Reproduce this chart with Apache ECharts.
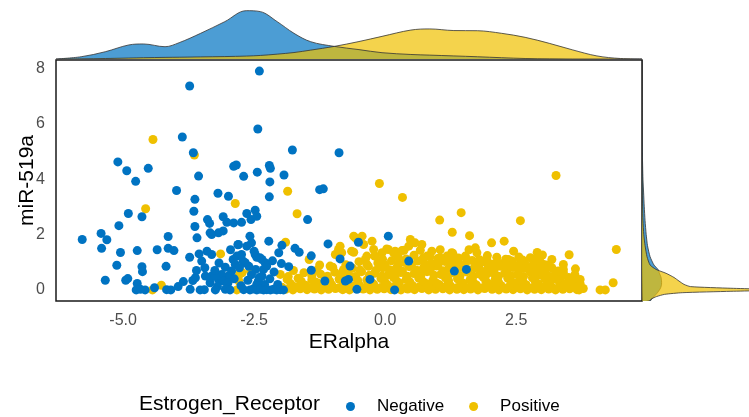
<!DOCTYPE html>
<html>
<head>
<meta charset="utf-8">
<script src="https://cdn.jsdelivr.net/npm/echarts@6/dist/echarts.min.js"></script>
<style>
  html, body { margin: 0; padding: 0; background: #fff; }
  #chart { width: 749px; height: 417px; }
</style>
</head>
<body>
<div id="chart"></div>
<script>
// ERalpha (x) vs miR-519a (y)
var negPoints = [
  [-2.40,7.90],[-3.73,7.36],[-2.43,5.81],[-3.87,5.52],[-1.77,5.05],[-0.88,4.95],[-3.66,4.95],
  [-5.10,4.62],[-4.93,4.30],[-4.52,4.39],[-4.76,3.92],[-2.89,4.46],[-2.84,4.51],[-2.44,4.25],
  [-2.21,4.49],[-2.19,4.39],[-2.70,4.10],[-3.56,4.11],[-1.93,4.15],[-2.20,3.90],[-3.98,3.59],
  [-1.25,3.62],[-1.18,3.65],[-3.19,3.49],[-2.99,3.38],[-2.21,3.36],[-3.63,3.27],[-3.65,2.84],
  [-4.90,2.76],[-4.64,2.64],[-1.48,2.54],[-3.39,2.54],[-3.35,2.40],[-3.09,2.64],[-3.02,2.44],
  [-2.89,2.42],[-2.74,2.44],[-2.64,2.76],[-2.56,2.54],[-2.48,2.88],[-2.45,2.66],[-5.08,2.32],
  [-3.63,2.29],[-3.34,2.06],[-3.18,2.06],[-3.09,2.13],[-3.31,2.00],[-5.78,1.82],[-5.42,2.04],
  [-5.31,1.81],[-5.41,1.50],[-5.05,1.35],[-4.73,1.42],[-4.35,1.45],[-4.14,1.93],[-4.14,1.50],
  [-4.03,1.42],[-3.59,1.88],[-2.58,1.94],[-2.55,1.70],[-2.64,1.58],[-2.81,1.63],[-2.22,1.76],
  [-1.97,1.61],[-1.72,1.50],[-1.64,1.36],[-1.09,1.66],[-1.41,1.23],[-3.40,1.40],[-3.31,1.28],
  [-3.73,1.18],[-3.55,1.30],[-5.12,0.89],[-4.64,0.84],[-4.63,0.66],[-4.18,0.85],[-3.50,1.04],
  [-3.44,0.80],[-3.17,0.97],[-2.90,1.10],[-2.83,1.22],[-2.71,1.04],[-2.45,1.18],[-2.35,1.10],
  [-2.29,0.98],[-2.47,0.74],[-2.32,0.74],[-2.03,1.34],[-1.84,0.84],[-2.80,1.64],[-2.74,1.28],
  [-2.67,0.98],[-2.48,1.28],[-2.39,1.16],[-2.26,0.86],[-2.35,0.50],[-2.86,0.92],[-2.93,0.68],
  [-2.99,0.50],[-3.31,0.50],[-3.18,0.38],[-3.12,0.56],[-3.34,0.26],[-3.43,0.50],[-4.73,0.23],
  [-5.34,0.35],[-4.95,0.35],[-4.91,0.41],[-3.67,0.34],[-3.62,0.44],[-3.34,0.44],[-3.25,0.50],
  [-3.09,0.32],[-2.96,0.52],[-2.42,0.32],[-2.30,0.20],[-2.45,0.20],[-1.15,0.32],[-0.70,0.38],
  [-1.41,0.71],[-0.86,1.12],[-0.67,0.86],[-0.51,1.72],[0.06,1.94],[-0.76,0.32],[-0.54,0.02],
  [1.32,0.68],[1.55,0.74],[0.18,0.00],[0.45,1.04],[-0.29,0.38],
  [-3.20,0.12],[-3.00,0.25],[-2.88,0.40],[-2.75,0.15],[-2.62,0.35],[-2.55,0.55],[-2.40,0.45],
  [-2.20,0.40],[-2.12,0.65],[-2.05,0.20],[-2.60,0.85],[-2.78,0.80],[-3.05,0.82],[-3.25,0.70],
  [-2.15,1.05],[-1.98,0.95],[-2.50,1.40],[-2.95,1.45],[-3.60,0.70],[-3.85,0.30],[-4.40,0.08],
  [-3.95,0.12],
  [-4.75,0.00],[-4.67,0.02],[-4.58,0.00],[-4.17,0.01],[-4.09,0.00],[-3.72,0.02],[-3.53,0.00],
  [-3.45,0.01],[-3.24,0.00],[-3.05,0.02],[-2.96,0.00],[-2.70,0.01],[-2.58,0.00],[-2.52,0.03],
  [-2.45,0.00],[-2.38,0.02],[-2.32,0.00],[-2.26,0.01],[-2.19,0.00],[-2.13,0.02],[-2.07,0.00],
  [-2.00,0.01],[-1.94,0.00]
];

var posPoints = [
  [-4.43,5.43],[-3.64,4.87],[-1.86,3.56],[-2.86,3.12],[-1.68,2.75],[-4.57,2.93],[-1.90,1.72],
  [-3.14,1.30],[-2.70,1.00],[-2.00,0.56],[-1.87,0.38],[-2.73,0.62],[-2.57,0.68],[-4.27,0.17],
  [-4.44,0.00],[-2.79,0.32],[-2.83,0.00],[-2.78,0.56],
  [-0.11,3.84],[0.33,3.34],[3.26,4.13],[1.04,2.52],[1.45,2.79],[1.28,2.08],[1.61,1.96],
  [2.58,2.50],[2.03,1.70],[2.27,1.76],[4.41,1.46],[3.51,1.27],[3.18,1.10],[2.77,1.16],
  [2.35,1.10],[2.13,1.18],[1.72,1.52],[1.75,1.34],[1.53,1.22],[1.29,1.32],[1.18,1.22],
  [1.02,1.10],[0.48,1.82],[0.57,1.70],[0.70,1.64],[0.36,1.43],[0.67,1.43],[0.06,1.46],
  [0.19,1.40],[-0.57,1.88],[-0.60,1.36],[-0.38,1.10],[-0.25,1.76],[-0.41,1.64],[-0.60,1.94],
  [-0.89,1.46],[-0.83,1.34],[-0.64,1.40],[-0.79,0.74],[-0.44,1.94],[-0.19,1.22],[-0.06,1.34],
  [0.22,1.34],[0.03,1.48],[0.16,1.34],[0.32,1.42],[0.73,1.16],[1.05,1.16],[1.27,1.34],
  [0.89,1.40],[0.80,1.22],[-0.86,1.58],[-0.95,1.28],[-1.05,0.86],[-0.22,1.46],[-0.35,1.22],
  [3.63,0.76],[3.40,0.74],[3.72,0.38],[3.40,0.62],[3.02,0.50],[4.35,0.26],[4.10,0.00],
  [4.20,0.00],[2.74,0.80],[2.89,0.62],[3.18,0.40],[3.34,0.32],[3.70,0.00],[3.78,0.05],
  [3.66,0.26],[3.72,0.22],[3.62,0.55],[3.40,0.92],[3.02,0.92],[1.94,1.10],
  [-1.97,0.10],[-1.85,0.48],[-1.75,0.70],[-1.25,0.90],[-1.45,1.10],
  [0.45,1.58],[1.05,1.45],[1.60,1.45],[2.45,1.40],[2.90,1.35],
  [-1.90,0.02],[-1.76,0.00],[-1.62,0.04],[-1.49,0.01],[-1.35,0.03],[-1.22,0.00],[-1.08,0.02],
  [-0.95,0.05],[-0.81,0.01],[-0.68,0.00],[-0.42,0.03],[-0.29,0.00],[-0.15,0.02],[-0.02,0.04],
  [0.11,0.01],[0.30,0.00],[0.43,0.03],[0.56,0.01],[0.70,0.05],[0.83,0.00],[0.96,0.02],
  [1.10,0.04],[1.23,0.00],[1.37,0.02],[1.50,0.01],[1.63,0.03],[1.77,0.00],[1.90,0.05],
  [2.04,0.02],[2.17,0.00],[2.31,0.03],[2.44,0.01],[2.58,0.04],[2.71,0.00],[2.85,0.02],
  [2.98,0.01],[3.12,0.03],[3.25,0.00],[3.39,0.02],[3.52,0.04],[3.66,0.01],
  [-1.70,0.11],[-1.42,0.09],[-1.15,0.12],[-0.88,0.08],[-0.60,0.13],[-0.35,0.10],[-0.08,0.09],
  [0.18,0.12],[0.40,0.08],[0.65,0.11],[0.90,0.10],[1.16,0.13],[1.38,0.09],[1.62,0.11],
  [1.86,0.08],[2.10,0.12],[2.35,0.10],[2.58,0.13],[2.82,0.09],[3.05,0.11],[3.30,0.08],
  [3.48,0.12],[3.72,0.10],
  [-1.80,0.22],[-1.52,0.17],[-1.28,0.24],[-1.02,0.19],[-0.74,0.26],[-0.48,0.15],[-0.22,0.21],
  [0.05,0.18],[0.27,0.25],[0.52,0.16],[0.78,0.23],[1.03,0.20],[1.25,0.14],[1.49,0.24],
  [1.74,0.18],[1.98,0.22],[2.21,0.16],[2.46,0.25],[2.69,0.19],[2.93,0.21],[3.16,0.15],
  [3.40,0.23],[3.58,0.18],
  [-1.60,0.31],[-1.33,0.29],[-1.06,0.32],[-0.80,0.28],[-0.52,0.33],[-0.28,0.30],[0.00,0.28],
  [0.22,0.32],[0.47,0.29],[0.72,0.31],[0.96,0.27],[1.21,0.33],[1.44,0.30],[1.68,0.28],
  [1.92,0.32],[2.16,0.29],[2.40,0.31],[2.63,0.28],[2.86,0.33],[3.10,0.30],[3.33,0.29],[3.55,0.31],
  [-1.66,0.42],[-1.40,0.37],[-1.14,0.44],[-0.88,0.39],[-0.60,0.46],[-0.35,0.36],[-0.08,0.41],
  [0.16,0.45],[0.40,0.38],[0.64,0.43],[0.91,0.35],[1.15,0.44],[1.38,0.40],[1.62,0.37],
  [1.87,0.46],[2.10,0.39],[2.34,0.42],[2.57,0.36],[2.81,0.44],[3.05,0.40],[3.28,0.37],[3.50,0.45],
  [-1.40,0.51],[-1.10,0.49],[-0.82,0.52],[-0.56,0.48],[-0.30,0.53],[-0.06,0.50],[0.19,0.52],
  [0.42,0.49],[0.68,0.51],[0.93,0.53],[1.19,0.48],[1.43,0.52],[1.68,0.50],[1.92,0.53],
  [2.16,0.49],[2.40,0.51],[2.64,0.48],[2.90,0.52],[3.12,0.50],[3.38,0.53],
  [-1.55,0.62],[-1.23,0.57],[-0.96,0.64],[-0.70,0.58],[-0.45,0.66],[-0.20,0.60],[0.06,0.55],
  [0.30,0.63],[0.55,0.59],[0.80,0.66],[1.06,0.56],[1.31,0.61],[1.55,0.65],[1.80,0.57],
  [2.03,0.63],[2.28,0.60],[2.52,0.55],[2.77,0.64],[3.00,0.58],[3.25,0.62],
  [-1.30,0.71],[-0.80,0.69],[-0.48,0.72],[-0.18,0.70],[0.08,0.73],[0.33,0.68],[0.60,0.71],
  [0.86,0.72],[1.10,0.69],[1.34,0.73],[1.58,0.70],[1.83,0.68],[2.08,0.72],[2.32,0.70],
  [2.56,0.73],[2.81,0.69],[3.06,0.71],[3.30,0.68],
  [-1.00,0.82],[-0.62,0.78],[-0.32,0.85],[-0.05,0.80],[0.20,0.76],[0.46,0.84],[0.73,0.79],
  [0.98,0.86],[1.21,0.77],[1.46,0.83],[1.70,0.80],[1.95,0.75],[2.20,0.85],[2.44,0.81],
  [2.68,0.78],[2.94,0.84],[3.18,0.80],
  [-0.75,0.91],[-0.35,0.93],[0.00,0.90],[0.25,0.92],[0.50,0.89],[0.76,0.93],[1.01,0.91],
  [1.27,0.88],[1.53,0.92],[1.79,0.90],[2.05,0.93],[2.30,0.89],[2.55,0.91],[2.82,0.92],[3.08,0.90],
  [-0.50,1.02],[-0.14,0.97],[0.12,1.05],[0.38,0.99],[0.62,1.04],[0.88,0.96],[1.14,1.03],
  [1.40,0.98],[1.66,1.06],[1.92,1.00],[2.18,0.95],[2.42,1.04],[2.66,0.98],[2.96,1.01],
  [-0.05,1.11],[0.40,1.12],[0.72,1.09],[1.00,1.13],[1.26,1.10],[1.55,1.12],[1.80,1.09],
  [2.30,1.11],[2.62,1.08],[2.88,1.12],
  [-0.20,1.22],[0.25,1.18],[0.55,1.25],[0.85,1.20],[1.40,1.15],[1.95,1.24],[2.55,1.19],[3.00,1.26]
];

// marginal density along ERalpha (top)
var densX   = [-6.28,-5.80,-5.34,-4.89,-4.61,-4.20,-3.93,-3.52,-3.06,-2.65,-2.38,-2.06,-1.74,-1.42,
               -0.97,-0.50,-0.06,0.49,0.85,1.31,1.76,2.22,2.67,3.13,3.58,4.04,4.49,4.90];
var negDensX = [0.000,0.014,0.045,0.087,0.093,0.076,0.101,0.159,0.231,0.299,0.293,0.231,0.159,0.107,
               0.078,0.058,0.039,0.028,0.024,0.019,0.014,0.008,0.003,0.001,0.000,0.000,0.000,0.000];
var posDensX = [0.000,0.001,0.003,0.006,0.008,0.010,0.011,0.013,0.015,0.018,0.022,0.030,0.040,0.055,
               0.078,0.108,0.140,0.179,0.186,0.176,0.175,0.159,0.134,0.097,0.056,0.019,0.003,0.000];

// marginal density along miR-519a (right)
var densY    = [8.3,6.0,5.0,4.0,3.5,3.0,2.5,2.0,1.6,1.2,0.9,0.74,0.6,0.45,0.32,0.2,0.12,0.06,0.0,
                -0.05,-0.1,-0.16,-0.24,-0.32,-0.4];
var negDensY = [0,0,0.002,0.006,0.010,0.014,0.019,0.026,0.034,0.050,0.074,0.099,0.108,0.118,0.121,
                0.121,0.118,0.114,0.108,0.102,0.096,0.087,0.074,0.062,0.050];
var posDensY = [0,0,0,0.001,0.002,0.004,0.006,0.011,0.019,0.031,0.050,0.087,0.149,0.198,0.229,
                0.260,0.300,0.550,0.900,0.550,0.250,0.140,0.090,0.060,0.043];

var xTicks = [-5, -2.5, 0, 2.5];
var yTicks = [0, 2, 4, 6, 8];
var groups = ['Negative', 'Positive'];

var blue = '#0073C2', yellow = '#EFC000';
var blueFill = 'rgba(0,115,194,0.7)', yellowFill = 'rgba(239,192,0,0.7)';
var font = 'Liberation Sans, Arial, sans-serif';

var chart = echarts.init(document.getElementById('chart'));

function rightDensity(dens, fill) {
  return {
    type: 'custom',
    xAxisIndex: 2,
    yAxisIndex: 2,
    clip: true,
    silent: true,
    data: densY.map(function (y, i) { return [dens[i], y]; }),
    renderItem: function (params, api) {
      if (params.dataIndex !== 0) return null;
      var pts = [api.coord([0, densY[0]])];
      for (var i = 0; i < densY.length; i++) pts.push(api.coord([dens[i], densY[i]]));
      pts.push(api.coord([0, densY[densY.length - 1]]));
      return {
        type: 'polygon',
        shape: { points: pts, smooth: 0.2 },
        style: { fill: fill, stroke: '#333', lineWidth: 0.8 }
      };
    }
  };
}

function topDensity(dens, fill) {
  return {
    type: 'line',
    xAxisIndex: 1,
    yAxisIndex: 1,
    smooth: 0.35,
    showSymbol: false,
    silent: true,
    data: densX.map(function (x, i) { return [x, dens[i]]; }),
    lineStyle: { color: '#333', width: 0.8 },
    areaStyle: { color: fill, opacity: 1, origin: 'start' }
  };
}

var hidden = { show: false };

chart.setOption({
  animation: false,
  backgroundColor: '#fff',
  textStyle: { fontFamily: font },
  grid: [
    { left: 56, right: 107, top: 60, bottom: 116, outerBoundsMode: 'none', show: true,
      borderColor: '#1a1a1a', borderWidth: 1.5, backgroundColor: 'transparent' },
    { left: 56, right: 107, top: 0, bottom: 358, outerBoundsMode: 'none' },
    { left: 642, right: 0, top: 60, bottom: 116, outerBoundsMode: 'none' }
  ],
  xAxis: [
    {
      gridIndex: 0, type: 'value', min: -6.28, max: 4.9,
      name: 'ERalpha', nameLocation: 'middle', nameGap: 31, nameMoveOverlap: false,
      nameTextStyle: { fontSize: 21, color: '#000', fontFamily: font },
      axisLine: hidden, axisTick: hidden, splitLine: hidden,
      axisLabel: {
        customValues: xTicks, margin: 12, fontSize: 16, color: '#4d4d4d', fontFamily: font,
        formatter: function (v) { return v.toFixed(1); }
      }
    },
    { gridIndex: 1, type: 'value', min: -6.28, max: 4.9, show: false },
    { gridIndex: 2, type: 'value', min: 0, max: 0.662, show: false }
  ],
  yAxis: [
    {
      gridIndex: 0, type: 'value', min: -0.4, max: 8.3,
      name: 'miR-519a', nameLocation: 'middle', nameGap: 18, nameMoveOverlap: false,
      nameTextStyle: { fontSize: 21, color: '#000', fontFamily: font },
      axisLine: hidden, axisTick: hidden, splitLine: hidden,
      axisLabel: { customValues: yTicks, margin: 11, fontSize: 16, color: '#4d4d4d', fontFamily: font }
    },
    { gridIndex: 1, type: 'value', min: 0, max: 0.365, show: false },
    { gridIndex: 2, type: 'value', min: -0.4, max: 8.3, show: false }
  ],
  legend: {
    data: groups.map(function (g) { return { name: g, icon: 'circle' }; }),
    left: 341, top: 393,
    itemWidth: 9, itemHeight: 9, itemGap: 25,
    textStyle: { fontSize: 17, color: '#000', fontFamily: font, padding: [0, 0, 0, 17] }
  },
  graphic: [{
    type: 'text', left: 139, top: 394,
    style: { text: 'Estrogen_Receptor', fontSize: 21, fill: '#000', fontFamily: font }
  }],
  series: [
    topDensity(negDensX, blueFill),
    topDensity(posDensX, yellowFill),
    rightDensity(negDensY, blueFill),
    rightDensity(posDensY, yellowFill),
    {
      name: 'Positive', type: 'scatter', xAxisIndex: 0, yAxisIndex: 0,
      symbolSize: 9, data: posPoints, itemStyle: { color: yellow, opacity: 1 }
    },
    {
      name: 'Negative', type: 'scatter', xAxisIndex: 0, yAxisIndex: 0,
      symbolSize: 9, data: negPoints, itemStyle: { color: blue, opacity: 1 }
    }
  ]
});
</script>
</body>
</html>
